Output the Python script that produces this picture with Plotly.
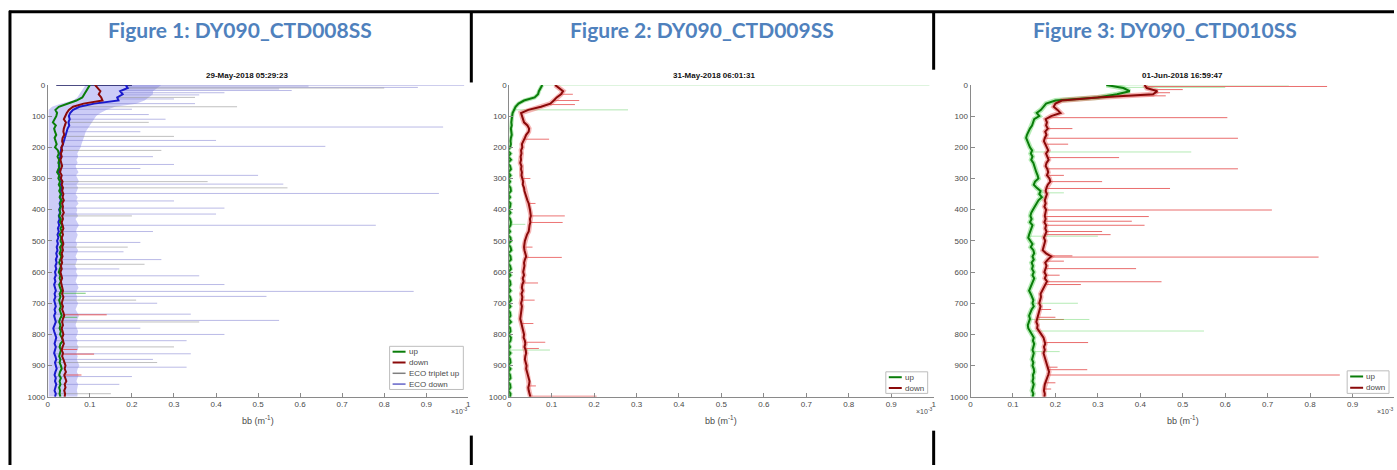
import numpy as np
import plotly.graph_objects as go

W, H = 1397, 470

# depth bins (m) shared by all binned profiles
depth = list(range(0, 1001, 10))

# ---------------- DY090_CTD008SS ----------------
ctd008_up = [0.100, 0.095, 0.092, 0.085, 0.082, 0.068, 0.045, 0.026, 0.018, 0.022,
             0.020, 0.016, 0.012, 0.019, 0.015, 0.017, 0.020, 0.016, 0.018, 0.021,
             0.017, 0.024, 0.026, 0.023, 0.027, 0.025, 0.028, 0.024, 0.022, 0.027,
             0.025, 0.029, 0.026, 0.030, 0.027, 0.031, 0.028, 0.033, 0.029, 0.031,
             0.028, 0.030, 0.027, 0.031, 0.029, 0.034, 0.030, 0.033, 0.028, 0.032,
             0.030, 0.034, 0.029, 0.031, 0.028, 0.032, 0.030, 0.027, 0.031, 0.029,
             0.026, 0.030, 0.028, 0.031, 0.027, 0.029, 0.032, 0.028, 0.030, 0.027,
             0.029, 0.031, 0.028, 0.030, 0.033, 0.029, 0.027, 0.030, 0.028, 0.031,
             0.029, 0.033, 0.036, 0.030, 0.028, 0.031, 0.029, 0.027, 0.030, 0.028,
             0.031, 0.033, 0.029, 0.027, 0.031, 0.028, 0.030, 0.027, 0.029, 0.028,
             0.030]
ctd008_down = [0.112, 0.118, 0.125, 0.121, 0.127, 0.130, 0.085, 0.060, 0.050, 0.045,
               0.041, 0.038, 0.043, 0.040, 0.038, 0.037, 0.039, 0.035, 0.034, 0.036,
               0.032, 0.034, 0.031, 0.033, 0.030, 0.032, 0.034, 0.031, 0.029, 0.033,
               0.031, 0.035, 0.033, 0.036, 0.034, 0.037, 0.035, 0.038, 0.034, 0.036,
               0.035, 0.038, 0.034, 0.036, 0.033, 0.035, 0.037, 0.034, 0.036, 0.033,
               0.035, 0.037, 0.034, 0.036, 0.033, 0.035, 0.032, 0.034, 0.031, 0.033,
               0.030, 0.032, 0.034, 0.031, 0.033, 0.035, 0.036, 0.034, 0.037, 0.035,
               0.033, 0.036, 0.034, 0.037, 0.039, 0.036, 0.034, 0.036, 0.033, 0.035,
               0.037, 0.034, 0.036, 0.038, 0.035, 0.033, 0.036, 0.034, 0.037, 0.039,
               0.042, 0.040, 0.043, 0.039, 0.041, 0.044, 0.040, 0.042, 0.039, 0.041,
               0.040]
ctd008_eco = [0.185, 0.190, 0.172, 0.178, 0.165, 0.168, 0.110, 0.075, 0.060, 0.053,
              0.050, 0.052, 0.049, 0.051, 0.047, 0.045, 0.043, 0.040, 0.038, 0.036,
              0.033, 0.031, 0.029, 0.030, 0.027, 0.028, 0.026, 0.028, 0.025, 0.027,
              0.030, 0.033, 0.031, 0.034, 0.030, 0.032, 0.029, 0.031, 0.028, 0.030,
              0.027, 0.029, 0.026, 0.028, 0.025, 0.027, 0.024, 0.026, 0.023, 0.025,
              0.022, 0.024, 0.021, 0.023, 0.020, 0.022, 0.019, 0.021, 0.018, 0.020,
              0.017, 0.019, 0.016, 0.018, 0.015, 0.017, 0.019, 0.016, 0.018, 0.015,
              0.017, 0.019, 0.016, 0.018, 0.015, 0.017, 0.019, 0.016, 0.013, 0.015,
              0.017, 0.020, 0.018, 0.016, 0.019, 0.017, 0.015, 0.018, 0.020, 0.017,
              0.019, 0.021, 0.018, 0.016, 0.019, 0.017, 0.020, 0.018, 0.016, 0.019,
              0.017]
# raw ECO down scatter envelope (left / right edge per bin)
ctd008_eco_raw_lo = [0.090, 0.085, 0.080, 0.075, 0.070, 0.060, 0.030, 0.010] + [0.002] * 93
ctd008_eco_raw_hi = [0.270, 0.260, 0.250, 0.250, 0.240, 0.230, 0.210, 0.160, 0.140, 0.125,
                     0.115, 0.110, 0.105, 0.100, 0.095, 0.090, 0.088, 0.085, 0.082, 0.080,
                     0.078, 0.074, 0.070, 0.072, 0.068, 0.071, 0.066, 0.069, 0.073, 0.067,
                     0.070, 0.074, 0.068, 0.072, 0.069, 0.066, 0.071, 0.068, 0.073, 0.067,
                     0.070, 0.068, 0.072, 0.066, 0.070, 0.074, 0.069, 0.067, 0.071, 0.068,
                     0.066, 0.070, 0.067, 0.072, 0.069, 0.066, 0.070, 0.068, 0.065, 0.069,
                     0.067, 0.071, 0.068, 0.066, 0.070, 0.073, 0.069, 0.067, 0.070, 0.068,
                     0.072, 0.069, 0.066, 0.070, 0.074, 0.071, 0.068, 0.066, 0.069, 0.072,
                     0.070, 0.067, 0.071, 0.069, 0.073, 0.070, 0.068, 0.071, 0.069, 0.072,
                     0.075, 0.071, 0.069, 0.073, 0.070, 0.068, 0.072, 0.070, 0.069, 0.071,
                     0.070]
# surface sample of the ECO down record
ctd008_eco_surface = [0.020, 0.200]
# isolated high readings (depth m, value)
ctd008_eco_spike_d = [1, 4, 8, 13, 18, 25, 32, 45, 60, 78, 95, 110, 135, 150, 178, 197, 230,
                      255, 268, 290, 318, 348, 372, 395, 414, 450, 470, 505, 535, 560, 590,
                      612, 640, 662, 678, 700, 735, 755, 780, 800, 820, 862, 880, 905, 935, 960]
ctd008_eco_spike_v = [0.99, 0.62, 0.88, 0.55, 0.58, 0.42, 0.36, 0.30, 0.35, 0.20, 0.24, 0.28,
                      0.94, 0.22, 0.40, 0.66, 0.25, 0.30, 0.22, 0.50, 0.56, 0.93, 0.30, 0.42,
                      0.40, 0.78, 0.25, 0.22, 0.18, 0.27, 0.17, 0.36, 0.42, 0.87, 0.52, 0.26,
                      0.34, 0.55, 0.22, 0.42, 0.33, 0.34, 0.25, 0.33, 0.20, 0.17]
ctd008_trip_spike_d = [10, 40, 70, 120, 165, 210, 310, 330, 420, 520, 575, 690, 760, 840, 890, 990]
ctd008_trip_spike_v = [0.80, 0.35, 0.45, 0.24, 0.30, 0.27, 0.38, 0.57, 0.20, 0.19, 0.23, 0.21,
                       0.36, 0.30, 0.26, 0.15]
ctd008_down_spike_d = [737, 848, 863, 930]
ctd008_down_spike_v = [0.14, 0.07, 0.11, 0.08]
ctd008_up_spike_d = [668, 745]
ctd008_up_spike_v = [0.09, 0.07]

# ---------------- DY090_CTD009SS ----------------
ctd009_up = [0.078, 0.073, 0.070, 0.068, 0.060, 0.035, 0.022, 0.015, 0.011, 0.008,
             0.007, 0.006, 0.005, 0.006, 0.004, 0.005, 0.006, 0.004, 0.003, 0.004,
             0.002, -0.003, 0.003, -0.002, 0.004, -0.003, 0.002, 0.004, -0.002, 0.003,
             -0.003, 0.002, -0.002, 0.003, 0.004, -0.002, 0.002, -0.003, 0.003, 0.002,
             -0.002, 0.003, -0.003, 0.002, 0.004, 0.003, -0.002, 0.002, -0.003, 0.003,
             0.004, -0.002, 0.003, 0.005, -0.002, 0.003, 0.004, -0.003, 0.002, 0.004,
             -0.002, 0.003, -0.003, 0.002, 0.003, -0.002, 0.003, -0.003, 0.002, 0.004,
             -0.002, 0.003, -0.003, 0.002, 0.003, -0.002, 0.004, -0.003, 0.002, 0.003,
             -0.002, 0.004, 0.003, -0.002, 0.002, -0.003, 0.003, -0.002, 0.002, 0.003,
             -0.003, 0.003, -0.002, 0.002, 0.003, -0.003, 0.002, 0.003, -0.002, 0.003,
             0.002]
ctd009_down = [0.108, 0.118, 0.127, 0.122, 0.112, 0.105, 0.097, 0.075, 0.045, 0.028,
               0.030, 0.033, 0.035, 0.043, 0.047, 0.046, 0.040, 0.037, 0.034, 0.030,
               0.031, 0.028, 0.029, 0.027, 0.028, 0.026, 0.029, 0.028, 0.030, 0.029,
               0.031, 0.033, 0.032, 0.035, 0.036, 0.038, 0.040, 0.043, 0.046, 0.048,
               0.049, 0.050, 0.051, 0.049, 0.050, 0.048, 0.047, 0.046, 0.042, 0.039,
               0.037, 0.036, 0.035, 0.036, 0.038, 0.040, 0.037, 0.035, 0.036, 0.034,
               0.033, 0.035, 0.032, 0.034, 0.031, 0.030, 0.032, 0.029, 0.031, 0.030,
               0.028, 0.030, 0.029, 0.028, 0.027, 0.026, 0.028, 0.030, 0.032, 0.033,
               0.035, 0.034, 0.037, 0.038, 0.036, 0.039, 0.040, 0.038, 0.037, 0.039,
               0.041, 0.040, 0.042, 0.044, 0.046, 0.048, 0.047, 0.045, 0.046, 0.048,
               0.050]
ctd009_down_spike_d = [30, 50, 63, 174, 300, 380, 420, 441, 520, 553, 635, 690, 765, 825, 845, 965, 998]
ctd009_down_spike_v = [0.150, 0.165, 0.155, 0.094, 0.050, 0.062, 0.131, 0.126, 0.055, 0.124,
                       0.068, 0.060, 0.057, 0.085, 0.070, 0.063, 0.206]
ctd009_up_spike_d = [0, 80, 447, 850]
ctd009_up_spike_v = [0.99, 0.28, 0.038, 0.096]

# ---------------- DY090_CTD010SS ----------------
ctd010_up = [0.320, 0.360, 0.375, 0.345, 0.300, 0.200, 0.178, 0.172, 0.166, 0.156,
             0.162, 0.150, 0.147, 0.145, 0.140, 0.136, 0.133, 0.131, 0.134, 0.136,
             0.140, 0.145, 0.142, 0.146, 0.143, 0.148, 0.150, 0.153, 0.155, 0.158,
             0.160, 0.152, 0.149, 0.156, 0.165, 0.162, 0.168, 0.160, 0.155, 0.150,
             0.147, 0.143, 0.141, 0.144, 0.140, 0.146, 0.143, 0.141, 0.138, 0.136,
             0.140, 0.146, 0.142, 0.148, 0.150, 0.146, 0.149, 0.144, 0.147, 0.145,
             0.149, 0.146, 0.150, 0.147, 0.143, 0.140, 0.138, 0.142, 0.145, 0.148,
             0.146, 0.149, 0.144, 0.141, 0.138, 0.140, 0.137, 0.135, 0.136, 0.140,
             0.145, 0.149, 0.147, 0.150, 0.148, 0.146, 0.149, 0.147, 0.145, 0.148,
             0.146, 0.149, 0.150, 0.147, 0.148, 0.146, 0.149, 0.147, 0.145, 0.148,
             0.146]
ctd010_down = [0.410, 0.415, 0.440, 0.430, 0.300, 0.215, 0.200, 0.196, 0.205, 0.212,
               0.190, 0.177, 0.180, 0.178, 0.182, 0.176, 0.179, 0.175, 0.173, 0.177,
               0.180, 0.183, 0.178, 0.181, 0.184, 0.179, 0.177, 0.181, 0.183, 0.180,
               0.186, 0.188, 0.182, 0.179, 0.177, 0.180, 0.178, 0.175, 0.177, 0.174,
               0.178, 0.176, 0.175, 0.177, 0.174, 0.178, 0.176, 0.179, 0.175, 0.173,
               0.176, 0.174, 0.172, 0.170, 0.178, 0.190, 0.182, 0.176, 0.179, 0.177,
               0.174, 0.178, 0.175, 0.180, 0.176, 0.171, 0.168, 0.165, 0.166, 0.164,
               0.162, 0.165, 0.163, 0.160, 0.158, 0.156, 0.155, 0.158, 0.157, 0.162,
               0.168, 0.172, 0.174, 0.176, 0.173, 0.175, 0.172, 0.174, 0.176, 0.178,
               0.180, 0.182, 0.185, 0.183, 0.180, 0.177, 0.175, 0.174, 0.173, 0.175,
               0.174]
ctd010_down_spike_d = [5, 15, 25, 35, 105, 140, 171, 190, 233, 269, 290, 310, 332, 401, 422,
                       437, 450, 470, 480, 548, 552, 565, 589, 610, 631, 640, 720, 745, 752,
                       826, 905, 913, 930, 955, 975]
ctd010_down_spike_v = [0.84, 0.50, 0.47, 0.46, 0.605, 0.24, 0.63, 0.23, 0.35, 0.63, 0.22, 0.31,
                       0.47, 0.71, 0.42, 0.38, 0.41, 0.31, 0.33, 0.24, 0.82, 0.22, 0.39, 0.21,
                       0.45, 0.26, 0.19, 0.20, 0.22, 0.277, 0.205, 0.275, 0.87, 0.20, 0.19]
ctd010_up_spike_d = [0, 8, 215, 346, 485, 700, 752, 789, 855]
ctd010_up_spike_v = [0.75, 0.60, 0.52, 0.22, 0.30, 0.253, 0.28, 0.55, 0.21]

HEADERS = ["Figure 1: DY090_CTD008SS", "Figure 2: DY090_CTD009SS", "Figure 3: DY090_CTD010SS"]
TITLES = ["29-May-2018 05:29:23", "31-May-2018 06:01:31", "01-Jun-2018 16:59:47"]
XTICKS = [0, 0.1, 0.2, 0.3, 0.4, 0.5, 0.6, 0.7, 0.8, 0.9, 1]
YTICKS = [0, 100, 200, 300, 400, 500, 600, 700, 800, 900, 1000]

GREEN = "#0a7d0a"
DARKRED = "#8b0a0a"
BLUE = "#1a1acc"
GRAY = "#7f7f7f"
LAV = "#6464c8"
AXC = "#8a8a8a"
TXC = "#4a4a4a"
FONT = "Liberation Sans"


def fx(p):
    return p / W


def fy(p):
    return 1 - p / H


def spike_xy(base_d, base_v, sd, sv):
    xs, ys = [], []
    for d, v in zip(sd, sv):
        b = float(np.interp(d, base_d, base_v))
        xs += [b, v, None]
        ys += [d, d, None]
    return xs, ys


fig = go.Figure()

# plot areas in pixel coordinates: (left, right-at-x=1)
panels = [(46, 468), (509, 935), (972, 1398)]
top_px, bot_px = 82.5, 400.5


def add_line(i, x, y, color, width, opacity=1.0):
    ax = "" if i == 0 else str(i + 1)
    fig.add_trace(go.Scatter(x=x, y=y, mode="lines", xaxis="x" + ax, yaxis="y" + ax,
                             line=dict(color=color, width=width), opacity=opacity,
                             showlegend=False, hoverinfo="skip", connectgaps=False))


# --- panel 1 ---
env_x = ctd008_eco_raw_hi + ctd008_eco_raw_lo[::-1]
env_y = depth + depth[::-1]
fig.add_trace(go.Scatter(x=env_x, y=env_y, fill="toself", mode="lines",
                         fillcolor="rgba(120,120,235,0.38)", line=dict(width=0),
                         xaxis="x", yaxis="y", showlegend=False, hoverinfo="skip"))
sx, sy = spike_xy(depth, ctd008_eco, ctd008_eco_spike_d, ctd008_eco_spike_v)
add_line(0, sx, sy, "rgba(130,130,210,0.55)", 1)
sx, sy = spike_xy(depth, ctd008_eco, ctd008_trip_spike_d, ctd008_trip_spike_v)
add_line(0, sx, sy, "rgba(140,140,140,0.55)", 1)
sx, sy = spike_xy(depth, ctd008_down, ctd008_down_spike_d, ctd008_down_spike_v)
add_line(0, sx, sy, "rgba(230,60,60,0.8)", 1)
sx, sy = spike_xy(depth, ctd008_up, ctd008_up_spike_d, ctd008_up_spike_v)
add_line(0, sx, sy, "rgba(60,180,60,0.7)", 1)
add_line(0, ctd008_eco_surface, [0, 0], "#10105a", 1.5)
add_line(0, ctd008_eco, depth, BLUE, 2)
add_line(0, ctd008_up, depth, GREEN, 2)
add_line(0, ctd008_down, depth, DARKRED, 2)

# --- panel 2 ---
sx, sy = spike_xy(depth, ctd009_down, ctd009_down_spike_d, ctd009_down_spike_v)
add_line(1, sx, sy, "rgba(230,70,70,0.75)", 1)
sx, sy = spike_xy(depth, ctd009_up, ctd009_up_spike_d, ctd009_up_spike_v)
add_line(1, sx, sy, "rgba(80,200,80,0.45)", 1)
add_line(1, ctd009_down, depth, "rgba(235,90,90,0.45)", 5)
add_line(1, ctd009_up, depth, "rgba(80,200,80,0.45)", 4)
add_line(1, ctd009_up, depth, GREEN, 2)
add_line(1, ctd009_down, depth, DARKRED, 2)

# --- panel 3 ---
sx, sy = spike_xy(depth, ctd010_down, ctd010_down_spike_d, ctd010_down_spike_v)
add_line(2, sx, sy, "rgba(225,60,60,0.75)", 1)
sx, sy = spike_xy(depth, ctd010_up, ctd010_up_spike_d, ctd010_up_spike_v)
add_line(2, sx, sy, "rgba(90,210,90,0.45)", 1)
add_line(2, ctd010_up, depth, "rgba(90,210,90,0.45)", 5)
add_line(2, ctd010_down, depth, "rgba(235,90,90,0.45)", 5)
add_line(2, ctd010_up, depth, GREEN, 2)
add_line(2, ctd010_down, depth, DARKRED, 2)

layout = dict(width=W, height=H, margin=dict(l=0, r=0, t=0, b=0),
              paper_bgcolor="white", plot_bgcolor="white", showlegend=False)

for i, (l, r) in enumerate(panels):
    ax = "" if i == 0 else str(i + 1)
    right = min(r, W)
    xmax = (right - l) / (r - l)
    layout["xaxis" + ax] = dict(
        domain=[fx(l), fx(right)], range=[0, xmax], anchor="y" + ax,
        tickvals=XTICKS, ticktext=[f"{t:g}" for t in XTICKS],
        ticks="inside", ticklen=4, tickcolor=AXC, showline=True, linecolor=AXC,
        linewidth=1, showgrid=False, zeroline=False,
        tickfont=dict(family=FONT, size=8, color=TXC))
    layout["yaxis" + ax] = dict(
        domain=[fy(bot_px), fy(top_px)], range=[1000, 0], anchor="x" + ax,
        tickvals=YTICKS, ticks="inside", ticklen=4, tickcolor=AXC, showline=True,
        linecolor=AXC, linewidth=1, showgrid=False, zeroline=False,
        tickfont=dict(family=FONT, size=8, color=TXC))

fig.update_layout(**layout)

ann = []
shapes = []
header_cx = [239, 703, 1167]
title_cx = [246, 715, 1185]


def text(x, y, s, size, color, family=FONT, xanchor="center"):
    ann.append(dict(x=fx(x), y=fy(y), xref="paper", yref="paper", text=s,
                    showarrow=False, xanchor=xanchor, yanchor="middle",
                    font=dict(family=family, size=size, color=color)))


for i in range(3):
    l, r = panels[i]
    text(header_cx[i], 26, f"<b>{HEADERS[i]}</b>", 21, "#4F81BD", family="Lato")
    text(title_cx[i], 73, f"<b>{TITLES[i]}</b>", 8, "#111111")
    text((l + r) / 2, 424, "bb (m<sup>-1</sup>)", 9, TXC)
    text(min(r - 9, W - 9), 415, "×10<sup>-3</sup>", 7, TXC)


# table rules
def seg(x0, y0, x1, y1, w=3):
    shapes.append(dict(type="line", xref="paper", yref="paper", x0=fx(x0), y0=fy(y0),
                       x1=fx(x1), y1=fy(y1), line=dict(color="black", width=w)))


seg(7, 8, W, 8)
seg(8, 7, 8, H)
seg(471, 8, 471, 80)
seg(471, 440, 471, H)
seg(935, 8, 935, 67)
seg(935, 435, 935, H)


# legends
def legend(x0, y0, x1, y1, entries):
    shapes.append(dict(type="rect", xref="paper", yref="paper", x0=fx(x0), y0=fy(y0),
                       x1=fx(x1), y1=fy(y1), line=dict(color="#bdbdbd", width=1),
                       fillcolor="white"))
    n = len(entries)
    step = (y1 - y0) / n
    for k, (label, color, w) in enumerate(entries):
        yc = y0 + step * (k + 0.5)
        shapes.append(dict(type="line", xref="paper", yref="paper", x0=fx(x0 + 3),
                           x1=fx(x0 + 16), y0=fy(yc), y1=fy(yc),
                           line=dict(color=color, width=w)))
        text(x0 + 17, yc, label, 8, TXC, xanchor="left")


legend(389, 349, 463, 393, [("up", GREEN, 2), ("down", DARKRED, 2),
                            ("ECO triplet up", GRAY, 1.5), ("ECO down", LAV, 1.5)])
legend(887, 375, 929, 397, [("up", GREEN, 2), ("down", DARKRED, 2)])
legend(1350, 374, 1392, 397, [("up", GREEN, 2), ("down", DARKRED, 2)])

fig.update_layout(annotations=ann, shapes=shapes)
fig.write_html("out.html")
